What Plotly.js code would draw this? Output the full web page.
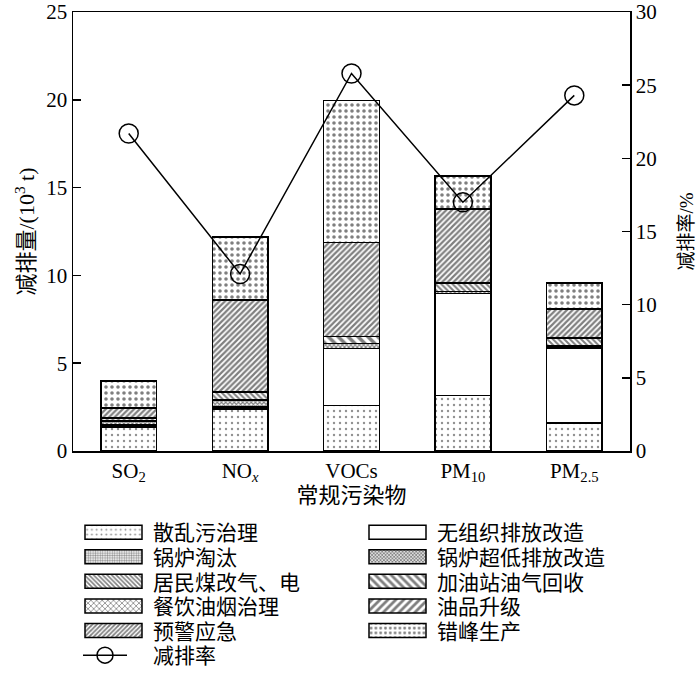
<!DOCTYPE html>
<html>
<head>
<meta charset="utf-8">
<script src="https://cdn.plot.ly/plotly-3.0.1.min.js"></script>
<style>html,body{margin:0;padding:0;background:#fff;}#chart{width:700px;height:673px;}</style>
</head>
<body>
<div id="chart"></div>
<script>
// Categories (pollutants)
const categories = ['SO2', 'NOx', 'VOCs', 'PM10', 'PM2.5'];
const categoryLabels = ['SO<sub>2</sub>', 'NO<sub><i>x</i></sub>', 'VOCs', 'PM<sub>10</sub>', 'PM<sub>2.5</sub>'];

// Reduction amounts by measure (10^3 t)
const sanluanwu   = [1.37, 2.40, 2.60, 3.15, 1.60]; // 散乱污治理
const wuzuzhi     = [0.00, 0.00, 3.25, 5.81, 4.27]; // 无组织排放改造
const guoluTaotai = [0.10, 0.10, 0.00, 0.00, 0.00]; // 锅炉淘汰
const guoluChaodi = [0.25, 0.40, 0.28, 0.12, 0.10]; // 锅炉超低排放改造
const juminMeigai = [0.15, 0.45, 0.00, 0.50, 0.47]; // 居民煤改气、电
const jiayouzhan  = [0.00, 0.00, 0.40, 0.00, 0.00]; // 加油站油气回收
const canyin      = [0.00, 0.00, 0.00, 0.00, 0.00]; // 餐饮油烟治理
const youpin      = [0.00, 0.00, 0.00, 0.00, 0.00]; // 油品升级
const yujing      = [0.57, 5.24, 5.35, 4.21, 1.65]; // 预警应急
const cuofeng     = [1.54, 3.60, 8.09, 1.88, 1.48]; // 错峰生产

// Reduction rate (%)
const reductionRate = [21.7, 12.1, 25.8, 17.0, 24.3];

const series = [
  {name: '散乱污治理', y: sanluanwu, pat: {shape: '.', size: 6, solidity: 0.12, fgcolor: '#222'}},
  {name: '无组织排放改造', y: wuzuzhi, pat: {shape: ''}},
  {name: '锅炉淘汰', y: guoluTaotai, pat: {shape: '.', size: 3, solidity: 0.5, fgcolor: '#222'}},
  {name: '锅炉超低排放改造', y: guoluChaodi, pat: {shape: 'x', size: 3, solidity: 0.6, fgcolor: '#000'}},
  {name: '居民煤改气、电', y: juminMeigai, pat: {shape: '\\', size: 4, solidity: 0.5, fgcolor: '#000'}},
  {name: '加油站油气回收', y: jiayouzhan, pat: {shape: '\\', size: 7, solidity: 0.5, fgcolor: '#000'}},
  {name: '餐饮油烟治理', y: canyin, pat: {shape: 'x', size: 5, solidity: 0.35, fgcolor: '#000'}},
  {name: '油品升级', y: youpin, pat: {shape: '/', size: 7, solidity: 0.5, fgcolor: '#000'}},
  {name: '预警应急', y: yujing, pat: {shape: '/', size: 4, solidity: 0.55, fgcolor: '#000'}},
  {name: '错峰生产', y: cuofeng, pat: {shape: '.', size: 6, solidity: 0.28, fgcolor: '#000'}}
];

const traces = series.map(s => ({
  type: 'bar',
  name: s.name,
  x: categories,
  y: s.y,
  width: 0.5,
  marker: {
    color: '#ffffff',
    line: {color: '#000', width: 1.5},
    pattern: Object.assign({bgcolor: '#ffffff', fillmode: 'overlay'}, s.pat)
  },
  hoverinfo: 'skip'
}));

traces.push({
  type: 'scatter',
  mode: 'lines+markers',
  name: '减排率',
  x: categories,
  y: reductionRate,
  yaxis: 'y2',
  line: {color: '#000', width: 1.5},
  marker: {symbol: 'circle-open', size: 19, color: '#000', line: {width: 1.5, color: '#000'}},
  hoverinfo: 'skip'
});

const serif = '"Liberation Serif", "Noto Sans CJK SC", serif';

const layout = {
  width: 700,
  height: 673,
  margin: {l: 73, r: 70, t: 12, b: 222, autoexpand: false},
  paper_bgcolor: '#fff',
  plot_bgcolor: '#fff',
  barmode: 'stack',
  showlegend: true,
  font: {family: serif, size: 21, color: '#000'},
  xaxis: {
    type: 'category',
    tickvals: categories,
    ticktext: categoryLabels,
    showline: true, linecolor: '#000', linewidth: 1.5, mirror: true,
    ticks: '', showgrid: false, zeroline: false,
    tickfont: {family: serif, size: 21},
    title: {text: '常规污染物', font: {family: serif, size: 22}, standoff: 2}
  },
  yaxis: {
    range: [0, 25], dtick: 5,
    showline: true, linecolor: '#000', linewidth: 1.5,
    ticks: 'inside', ticklen: 8, tickwidth: 1.5, tickcolor: '#000',
    showgrid: false, zeroline: false,
    tickfont: {family: serif, size: 21},
    title: {text: '减排量/(10<sup>3</sup> t)', font: {family: serif, size: 22}, standoff: 5}
  },
  yaxis2: {
    range: [0, 30], dtick: 5,
    overlaying: 'y', side: 'right',
    showline: true, linecolor: '#000', linewidth: 1.5,
    ticks: 'inside', ticklen: 8, tickwidth: 1.5, tickcolor: '#000',
    showgrid: false, zeroline: false,
    tickfont: {family: serif, size: 21},
    title: {text: '减排率/%', font: {family: serif, size: 19}, standoff: 24}
  },
  legend: {
    orientation: 'h',
    xref: 'container', yref: 'container',
    x: 74 / 700, xanchor: 'left',
    y: 1 - 512 / 673, yanchor: 'top',
    traceorder: 'normal',
    entrywidth: 200, entrywidthmode: 'pixels',
    itemwidth: 69,
    maxheight: 600,
    font: {family: serif, size: 21},
    bgcolor: 'rgba(0,0,0,0)'
  }
};

const COLW = 284, ROWH = 24.6;

function fixLegend(gd) {
  // let the two legend columns show in full
  gd.querySelectorAll('.legend .scrollbox, .legend').forEach(e => e.removeAttribute('clip-path'));
  const items = Array.from(gd.querySelectorAll('.legend .traces'));
  if (!items.length) return;
  const parse = t => {
    const m = /translate\(\s*([-\d.eE]+)[ ,]+([-\d.eE]+)/.exec(t || '');
    return m ? [parseFloat(m[1]), parseFloat(m[2])] : [0, 0];
  };
  const base = parse(items[0].getAttribute('transform'));
  items.forEach((g, i) => {
    const row = Math.floor(i / 2), col = i % 2;
    g.setAttribute('transform', 'translate(' + (base[0] + col * COLW) + ',' + (base[1] + row * ROWH) + ')');
    const isLine = g.querySelector('path.js-line');
    if (!isLine) {
      g.querySelectorAll('g.legendpoints path').forEach(p => {
        p.setAttribute('d', 'M-28.5,7H28.5V-7H-28.5Z');
      });
    } else {
      g.querySelectorAll('path.js-line').forEach(p => p.setAttribute('d', 'M9,0h44'));
      g.querySelectorAll('path.scatterpts').forEach(p => p.setAttribute('transform', 'translate(31,0)'));
    }
  });
}

const gd = document.getElementById('chart');
Plotly.newPlot(gd, traces, layout, {staticPlot: true}).then(() => fixLegend(gd));
</script>
</body>
</html>
